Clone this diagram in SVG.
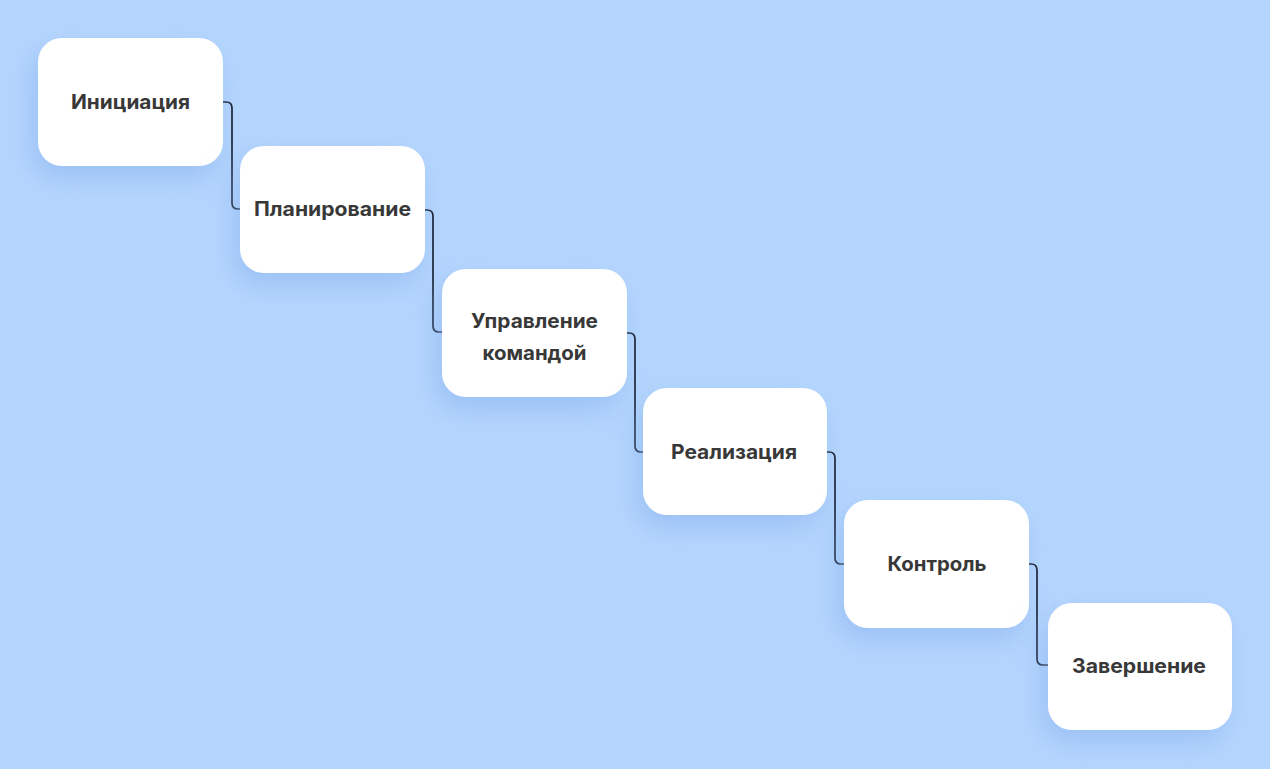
<svg xmlns="http://www.w3.org/2000/svg" width="1270" height="769" viewBox="0 0 1270 769">
  <defs>
    <filter id="sh" x="-40%" y="-40%" width="180%" height="200%">
      <feDropShadow dx="-6" dy="12" stdDeviation="14" flood-color="#8db6f0" flood-opacity="0.65"/>
    </filter>
    <style>
      .box { fill: #ffffff; filter: url(#sh); }
      .lbl { font-family: Inter, "Noto Sans", "DejaVu Sans", sans-serif; font-weight: 700; font-size: 20px; fill: #383838; text-anchor: middle; }
      .con { fill: none; stroke: #121826; stroke-width: 1.7; stroke-linecap: round; }
    </style>
  </defs>
  <rect width="1270" height="769" fill="#b4d5fd"/>
  <g id="connectors">
    <path class="con" d="M223,102 H226 Q232,102 232,108 V203 Q232,209 238,209 H240"/>
    <path class="con" d="M425,210 H427 Q433,210 433,216 V326 Q433,332 439,332 H442"/>
    <path class="con" d="M627,333 H629 Q635,333 635,339 V446 Q635,452 641,452 H643"/>
    <path class="con" d="M827,452 H829 Q835,452 835,458 V558 Q835,564 841,564 H844"/>
    <path class="con" d="M1029,564 H1031 Q1037,564 1037,570 V659 Q1037,665 1043,665 H1048"/>
  </g>
  <g id="node1">
    <rect class="box" x="38" y="38" width="185" height="128" rx="24"/>
    <text class="lbl" x="130.5" y="109" textLength="119" lengthAdjust="spacingAndGlyphs">Инициация</text>
  </g>
  <g id="node2">
    <rect class="box" x="240" y="146" width="185" height="127" rx="24"/>
    <text class="lbl" x="332.5" y="216" textLength="157" lengthAdjust="spacingAndGlyphs">Планирование</text>
  </g>
  <g id="node3">
    <rect class="box" x="442" y="269" width="185" height="128" rx="24"/>
    <text class="lbl" x="534.5" y="328" textLength="127" lengthAdjust="spacingAndGlyphs">Управление</text>
    <text class="lbl" x="534.5" y="360" textLength="104" lengthAdjust="spacingAndGlyphs">командой</text>
  </g>
  <g id="node4">
    <rect class="box" x="643" y="388" width="184" height="127" rx="24"/>
    <text class="lbl" x="734" y="459" textLength="126" lengthAdjust="spacingAndGlyphs">Реализация</text>
  </g>
  <g id="node5">
    <rect class="box" x="844" y="500" width="185" height="128" rx="24"/>
    <text class="lbl" x="937" y="571" textLength="99" lengthAdjust="spacingAndGlyphs">Контроль</text>
  </g>
  <g id="node6">
    <rect class="box" x="1048" y="603" width="184" height="127" rx="24"/>
    <text class="lbl" x="1139" y="673" textLength="134" lengthAdjust="spacingAndGlyphs">Завершение</text>
  </g>
</svg>
